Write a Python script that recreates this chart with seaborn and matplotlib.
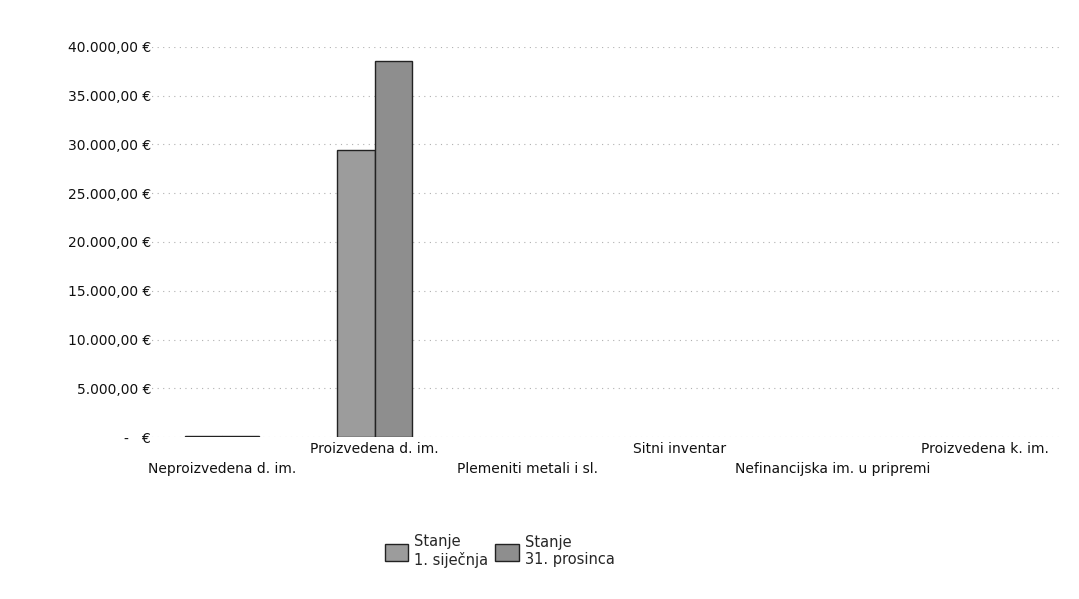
import pandas as pd
import numpy as np
import matplotlib.pyplot as plt
import seaborn as sns
from matplotlib.ticker import FuncFormatter

# data
categories = ['Neproizvedena d. im.', 'Proizvedena d. im.', 'Plemeniti metali i sl.',
              'Sitni inventar', 'Nefinancijska im. u pripremi', 'Proizvedena k. im.']
stanje_1_sijecnja = [150, 29400, 0, 0, 0, 0]
stanje_31_prosinca = [150, 38500, 0, 0, 0, 0]
series_names = ['Stanje\n1. siječnja', 'Stanje\n31. prosinca']

df = pd.DataFrame({
    'kategorija': categories * 2,
    'iznos': stanje_1_sijecnja + stanje_31_prosinca,
    'stanje': [series_names[0]] * len(categories) + [series_names[1]] * len(categories),
})

sns.set_style('white')
plt.rcParams['font.family'] = ['DejaVu Sans']

fig, ax = plt.subplots(figsize=(10.79, 5.99), dpi=100)
fig.subplots_adjust(left=0.135, right=0.984, top=0.922, bottom=0.27)

sns.barplot(data=df, x='kategorija', y='iznos', hue='stanje', order=categories,
            palette=['#9c9c9c', '#8e8e8e'], edgecolor='#222222', linewidth=1.0,
            width=0.49, ax=ax, legend=True)

handles, leg_labels = ax.get_legend_handles_labels()
ax.legend_.remove()

# empty bars show nothing in the original
for p in ax.patches:
    if p.get_height() == 0:
        p.set_edgecolor('none')

ax.set_xlim(-0.5, len(categories) - 0.5)
ax.set_ylim(0, 40000)
ax.set_yticks(np.arange(0, 40001, 5000))


def euro(v, pos):
    if v == 0:
        return '-   €'
    s = f'{v:,.2f}'.replace(',', 'X').replace('.', ',').replace('X', '.')
    return s + ' €'


ax.yaxis.set_major_formatter(FuncFormatter(euro))
ax.grid(axis='y', color='#b0b0b0', linestyle=(0, (1, 4)), linewidth=0.8)
ax.set_axisbelow(True)
sns.despine(ax=ax, left=True, bottom=True)
ax.tick_params(axis='both', length=0, labelsize=10, colors='#111111')
ax.tick_params(axis='y', pad=-4)

labels = [('\n' + c) if i % 2 == 0 else c for i, c in enumerate(categories)]
ax.set_xticks(range(len(categories)))
ax.set_xticklabels(labels, fontsize=10, linespacing=1.5)
ax.set_xlabel('')
ax.set_ylabel('')

leg = fig.legend(handles, leg_labels, loc='center', bbox_to_anchor=(0.463, 0.08),
                 ncol=2, frameon=False, fontsize=10.5, handlelength=1.6, handleheight=1.4,
                 columnspacing=0.5, handletextpad=0.4)
for h in leg.legend_handles:
    h.set_edgecolor('#222222')
    h.set_linewidth(1.0)

plt.savefig('out.png', dpi=100)
